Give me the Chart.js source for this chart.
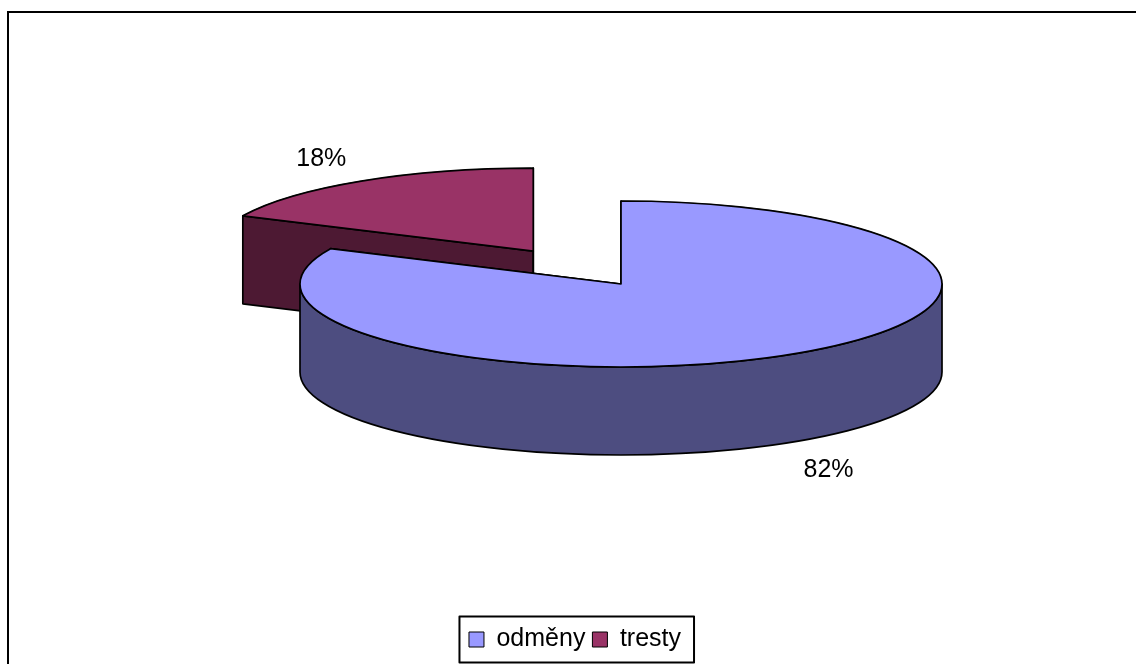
<!DOCTYPE html>
<html>
<head>
<meta charset="utf-8">
<style>html,body{margin:0;padding:0;background:#fff}canvas{display:block}</style>
<script src="https://cdn.jsdelivr.net/npm/chart.js@4/dist/chart.umd.min.js"></script>
</head>
<body>
<canvas id="c" width="1136" height="664"></canvas>
<script>
const categories = ["odměny", "tresty"];
const seriesValues = [82, 18];
const topColors = ["#9999FF", "#993366"];
const wallColors = ["#4D4D80", "#4D1933"];
const percentLabels = ["82%", "18%"];

const FONT = '"Liberation Sans", Arial, sans-serif';
const squash = 0.2586, depth = 88, targetX = 621, targetY = 284, stroke = 1.7;
const labelGapX = [35.5, 40], labelGapY = [28, 22];
const nudgeX = [0, -2], nudgeY = [0, 8];
const baseRadius = 321;
let baseX = 0, baseY = 0;

function geom(arc, i) {
  const o = arc.options.offset || 0;
  const mid = (arc.startAngle + arc.endAngle) / 2;
  return {
    dx: Math.cos(mid) * (o / 4) + nudgeX[i], dy: Math.sin(mid) * (o / 4) + nudgeY[i],
    mid, r: baseRadius, a: arc.startAngle, b: arc.endAngle
  };
}
function applySquash(ctx) {
  ctx.translate(targetX, targetY);
  ctx.scale(1, squash);
  ctx.translate(-baseX, -baseY);
}
function screen(g, angle, rad, drop) {
  return {
    x: targetX + g.dx + Math.cos(angle) * rad,
    y: targetY + (g.dy + Math.sin(angle) * rad) * squash + (drop || 0)
  };
}
function radialWall(ctx, g, angle, fill) {
  const c0 = screen(g, angle, 0), p0 = screen(g, angle, g.r);
  ctx.beginPath();
  ctx.moveTo(c0.x, c0.y); ctx.lineTo(p0.x, p0.y);
  ctx.lineTo(p0.x, p0.y + depth); ctx.lineTo(c0.x, c0.y + depth);
  ctx.closePath();
  ctx.fillStyle = fill; ctx.fill(); ctx.stroke();
}
function rimWall(ctx, g, fill) {
  for (const k of [0, 2]) {
    const t0 = Math.max(g.a, k * Math.PI), t1 = Math.min(g.b, (k + 1) * Math.PI);
    if (t1 <= t0) continue;
    const cx = targetX + g.dx, cy = targetY + g.dy * squash, ry = g.r * squash;
    ctx.beginPath();
    ctx.ellipse(cx, cy, g.r, ry, 0, t0, t1, false);
    ctx.ellipse(cx, cy + depth, g.r, ry, 0, t1, t0, true);
    ctx.closePath();
    ctx.fillStyle = fill; ctx.fill(); ctx.stroke();
  }
}
const pie3d = {
  id: 'pie3d',
  afterDatasetsUpdate(chart) {
    // Chart.js enlarges an offset arc by offset * fix when drawing; cancel that
    chart.getDatasetMeta(0).data.forEach((arc, i) => {
      if (i === 0) { baseX = arc.x; baseY = arc.y; }
      const o = (arc.options.offset || 0) / 4;
      const fix = 1 - Math.sin(Math.min(Math.PI, arc.circumference || 0));
      arc.outerRadius = baseRadius - o * fix;
      arc.x = baseX + nudgeX[i];
      arc.y = baseY + nudgeY[i];
    });
  },
  beforeDraw(chart) {
    const ctx = chart.ctx;
    ctx.save();
    ctx.fillStyle = '#fff'; ctx.fillRect(0, 0, chart.width, chart.height);
    ctx.fillStyle = '#000';
    ctx.fillRect(7, 11, chart.width - 7, 2);
    ctx.fillRect(7, 11, 2, chart.height - 11);
    ctx.restore();
  },
  beforeDatasetsDraw(chart) {
    const ctx = chart.ctx;
    const arcs = chart.getDatasetMeta(0).data;
    ctx.save();
    ctx.strokeStyle = '#000'; ctx.lineWidth = stroke; ctx.lineJoin = 'round';
    for (let i = arcs.length - 1; i >= 0; i--) {
      const g = geom(arcs[i], i);
      radialWall(ctx, g, g.a, wallColors[i]);
      radialWall(ctx, g, g.b, wallColors[i]);
      rimWall(ctx, g, wallColors[i]);
    }
    ctx.restore();
    ctx.save();
    applySquash(ctx);
  },
  afterDatasetsDraw(chart) {
    const ctx = chart.ctx;
    ctx.restore();
    const arcs = chart.getDatasetMeta(0).data;
    ctx.save();
    ctx.strokeStyle = '#000'; ctx.lineWidth = stroke; ctx.lineJoin = 'round';
    arcs.forEach((arc, i) => {
      const g = geom(arc, i);
      const c = screen(g, 0, 0);
      ctx.beginPath();
      ctx.moveTo(c.x, c.y);
      ctx.ellipse(c.x, c.y, g.r, g.r * squash, 0, g.a, g.b, false);
      ctx.closePath();
      ctx.fillStyle = topColors[i];
      ctx.fill();
      ctx.stroke();
    });
    ctx.fillStyle = '#000';
    ctx.font = '25px ' + FONT;
    ctx.textAlign = 'center'; ctx.textBaseline = 'middle';
    arcs.forEach((arc, i) => {
      const g = geom(arc, i);
      const p = screen(g, g.mid, g.r);
      const sx = Math.sign(Math.cos(g.mid)), sy = Math.sin(g.mid);
      ctx.fillText(percentLabels[i], p.x + sx * labelGapX[i], p.y + (sy > 0 ? depth + labelGapY[i] : -labelGapY[i]));
    });
    const l = chart.legend, hits = l.legendHitBoxes;
    const first = hits[0], last = hits[hits.length - 1];
    const cy = first.top + first.height / 2;
    ctx.lineWidth = 2;
    const bx = first.left - 9.5, bw = last.left + last.width + 13 - bx;
    ctx.strokeRect(bx, cy - 23, bw, 46);
    ctx.restore();
  }
};

new Chart(document.getElementById('c'), {
  type: 'pie',
  data: {
    labels: categories,
    datasets: [{
      data: seriesValues,
      backgroundColor: topColors,
      borderColor: '#000',
      borderWidth: 1,
      offset: [0, 640],
      hoverOffset: 0,
      radius: baseRadius,
      cutout: '0%'
    }]
  },
  options: {
    responsive: false,
    animation: false,
    events: [],
    layout: { padding: { left: 14, bottom: 2 } },
    plugins: {
      tooltip: { enabled: false },
      legend: {
        position: 'bottom',
        labels: { boxWidth: 15, boxHeight: 15, padding: 7, color: '#000', font: { family: FONT, size: 25 } }
      }
    }
  },
  plugins: [pie3d]
});
</script>
</body>
</html>
